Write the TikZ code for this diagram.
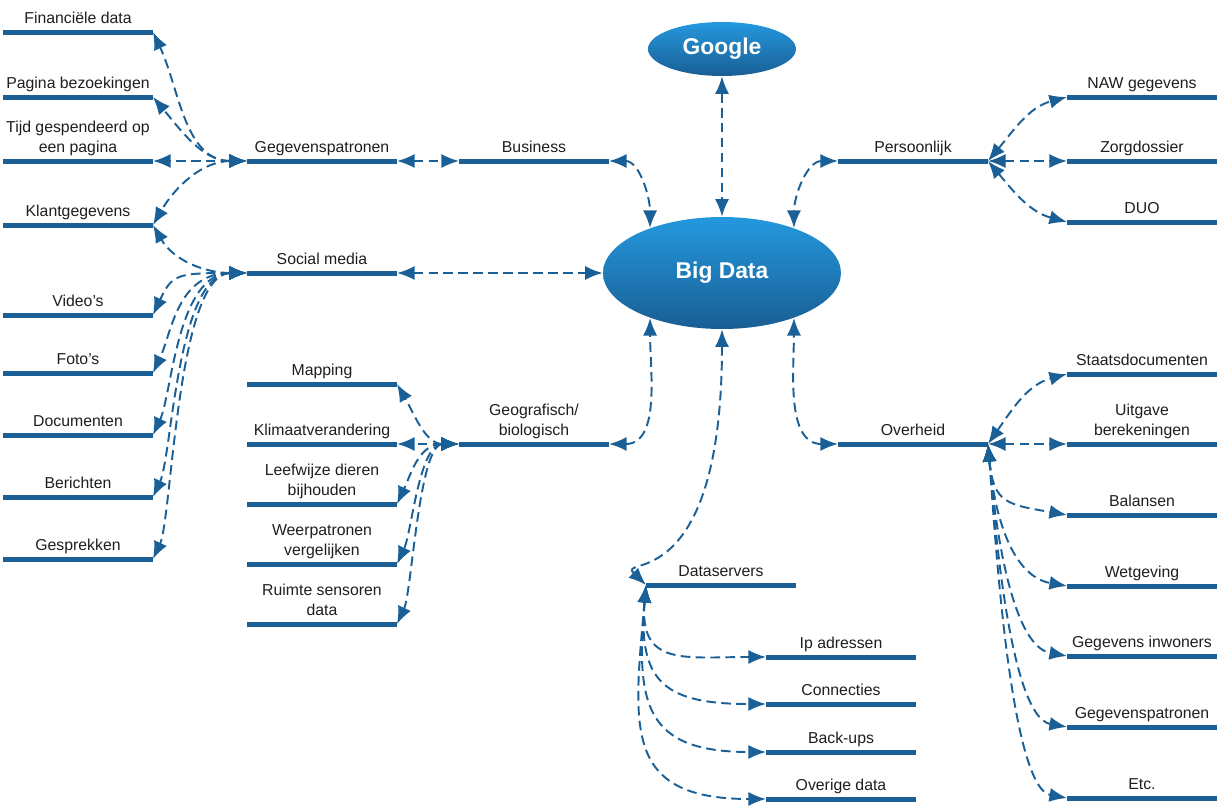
\documentclass[tikz,border=0pt]{standalone}
\usepackage{fontspec}
\setmainfont{Liberation Sans}
\usetikzlibrary{arrows.meta,shapes.geometric}
\definecolor{bdblue}{RGB}{26,96,150}
\definecolor{bdlight}{RGB}{36,152,222}
\definecolor{bddark}{RGB}{25,94,148}
\definecolor{bdtext}{RGB}{30,30,30}

\begin{document}
\begin{tikzpicture}[x=0.02cm, y=-0.02cm, >={Latex[length=10pt,width=8pt]},
  bar/.style={rectangle, fill=bdblue, minimum width=3cm, minimum height=0.1cm, inner sep=0pt, outer sep=0pt},
  lbl/.style={font=\fontsize{9}{11.3}\selectfont, text=bdtext, align=center, inner sep=1pt, text depth=2.4pt},
  bubble/.style={ellipse, inner sep=0pt, top color=bdlight, bottom color=bddark, text=white, font=\bfseries\fontsize{13}{16}\selectfont},
  link/.style={<->, bdblue, line width=1.1pt, dash pattern=on 5.5pt off 3pt},
  smfan/.style={out=180, in=65, out distance=1.4cm, in distance=0.9cm},
  geofan/.style={out=180, in=65, out distance=0.8cm, in distance=0.7cm},
  ovhfan/.style={out=-85, in=170, out distance=1.2cm, in distance=1.2cm},
  dsfan/.style={out=-95, in=180, looseness=1.5}]

\useasboundingbox (0,0) rectangle (1225,812);

% Centre
\path
(722,273) node[bubble, minimum width=4.76cm, minimum height=2.24cm] (bd) {Big Data}
(722,49)  node[bubble, minimum width=2.96cm, minimum height=1.08cm] (goo) {Google};

% Business side
\path
(322,161) node[bar, label={[lbl]above:Gegevenspatronen}] (gp) {}
(322,273) node[bar, label={[lbl]above:Social media}] (soc) {}
(534,161) node[bar, label={[lbl]above:Business}] (bus) {}
% left column
(78,32)   node[bar, label={[lbl]above:Financiële data}] (fin) {}
(78,97)   node[bar, label={[lbl]above:Pagina bezoekingen}] (pag) {}
(78,161)  node[bar, label={[lbl]above:{Tijd gespendeerd op\\een pagina}}] (tijd) {}
(78,225)  node[bar, label={[lbl]above:Klantgegevens}] (kla) {}
(78,315)  node[bar, label={[lbl]above:Video’s}] (vid) {}
(78,373)  node[bar, label={[lbl]above:Foto’s}] (fot) {}
(78,435)  node[bar, label={[lbl]above:Documenten}] (doc) {}
(78,497)  node[bar, label={[lbl]above:Berichten}] (ber) {}
(78,559)  node[bar, label={[lbl]above:Gesprekken}] (ges) {};

% Geografisch
\path
(534,444) node[bar, label={[lbl]above:{Geografisch/\\biologisch}}] (geo) {}
(322,384) node[bar, label={[lbl]above:Mapping}] (map) {}
(322,444) node[bar, label={[lbl]above:Klimaatverandering}] (kli) {}
(322,504) node[bar, label={[lbl]above:{Leefwijze dieren\\bijhouden}}] (lee) {}
(322,564) node[bar, label={[lbl]above:{Weerpatronen\\vergelijken}}] (weer) {}
(322,624) node[bar, label={[lbl]above:{Ruimte sensoren\\data}}] (rui) {};

% Dataservers
\path
(721,585) node[bar, label={[lbl]above:Dataservers}] (ds) {}
(841,657) node[bar, label={[lbl]above:Ip adressen}] (ipa) {}
(841,704) node[bar, label={[lbl]above:Connecties}] (con) {}
(841,752) node[bar, label={[lbl]above:Back-ups}] (bac) {}
(841,799) node[bar, label={[lbl]above:Overige data}] (ove) {};

% Persoonlijk
\path
(913,161)  node[bar, label={[lbl]above:Persoonlijk}] (per) {}
(1142,97)  node[bar, label={[lbl]above:NAW gegevens}] (naw) {}
(1142,161) node[bar, label={[lbl]above:Zorgdossier}] (zor) {}
(1142,222) node[bar, label={[lbl]above:DUO}] (duo) {};

% Overheid
\path
(913,444)  node[bar, label={[lbl]above:Overheid}] (ovh) {}
(1142,374) node[bar, label={[lbl]above:Staatsdocumenten}] (sta) {}
(1142,444) node[bar, label={[lbl]above:{Uitgave\\berekeningen}}] (uit) {}
(1142,515) node[bar, label={[lbl]above:Balansen}] (bal) {}
(1142,586) node[bar, label={[lbl]above:Wetgeving}] (wet) {}
(1142,656) node[bar, label={[lbl]above:Gegevens inwoners}] (inw) {}
(1142,727) node[bar, label={[lbl]above:Gegevenspatronen}] (gpa) {}
(1142,798) node[bar, label={[lbl]above:Etc.}] (etc) {};

% links to Big Data
\draw[link] (goo.south) -- (bd.north);
\draw[link] (soc.east) -- (bd.west);
\draw[link] (bus.east) to[out=0,in=90] (bd.148);
\draw[link] (per.west) to[out=180,in=90] (bd.32);
\draw[link] (geo.east) to[out=0,in=-90] (bd.212);
\draw[link] (ovh.west) to[out=180,in=-90] (bd.328);
\draw[link] (bd.south) .. controls (722,600) and (615,555) .. (ds.west);

% Gegevenspatronen and Social media
\draw[link] (gp.east) -- (bus.west);
\draw[link] (gp.west) to[out=180,in=-65] (fin.east);
\draw[link] (gp.west) to[out=180,in=-50] (pag.east);
\draw[link] (gp.west) -- (tijd.east);
\draw[link] (gp.west) to[out=180,in=60] (kla.east);
\draw[link] (soc.west) to[out=180,in=-60] (kla.east);
\draw[link] (soc.west) to[smfan] (vid.east);
\draw[link] (soc.west) to[smfan] (fot.east);
\draw[link] (soc.west) to[smfan] (doc.east);
\draw[link] (soc.west) to[smfan] (ber.east);
\draw[link] (soc.west) to[smfan] (ges.east);

% Geografisch
\draw[link] (geo.west) to[out=180,in=-60] (map.east);
\draw[link] (geo.west) -- (kli.east);
\draw[link] (geo.west) to[geofan] (lee.east);
\draw[link] (geo.west) to[geofan] (weer.east);
\draw[link] (geo.west) to[geofan] (rui.east);

% Dataservers
\draw[link] (ds.west) to[dsfan] (ipa.west);
\draw[link] (ds.west) to[dsfan] (con.west);
\draw[link] (ds.west) to[dsfan] (bac.west);
\draw[link] (ds.west) to[dsfan] (ove.west);

% Persoonlijk
\draw[link] (per.east) to[out=50,in=195] (naw.west);
\draw[link] (per.east) -- (zor.west);
\draw[link] (per.east) to[out=-50,in=165] (duo.west);

% Overheid
\draw[link] (ovh.east) to[out=55,in=195] (sta.west);
\draw[link] (ovh.east) -- (uit.west);
\draw[link] (ovh.east) to[ovhfan] (bal.west);
\draw[link] (ovh.east) to[ovhfan] (wet.west);
\draw[link] (ovh.east) to[ovhfan] (inw.west);
\draw[link] (ovh.east) to[ovhfan] (gpa.west);
\draw[link] (ovh.east) to[ovhfan] (etc.west);

\end{tikzpicture}
\end{document}
